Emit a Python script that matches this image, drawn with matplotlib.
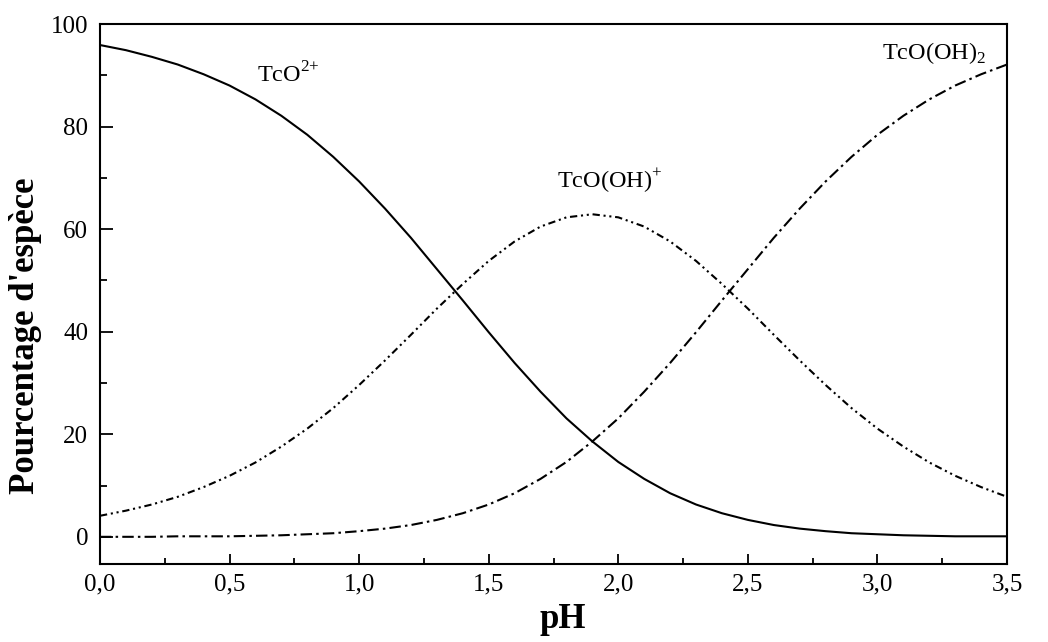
import matplotlib
matplotlib.use("Agg")
import matplotlib.pyplot as plt
from matplotlib.ticker import MultipleLocator, FixedLocator, FixedFormatter

ph = [0.0, 0.1, 0.2, 0.3, 0.4, 0.5, 0.6, 0.7, 0.8, 0.9,
      1.0, 1.1, 1.2, 1.3, 1.4, 1.5, 1.6, 1.7, 1.8, 1.9,
      2.0, 2.1, 2.2, 2.3, 2.4, 2.5, 2.6, 2.7, 2.8, 2.9,
      3.0, 3.1, 3.2, 3.3, 3.4, 3.5]

tco = [95.9, 94.9, 93.6, 92.1, 90.2, 88.0, 85.3, 82.1, 78.4, 74.1,
       69.3, 64.0, 58.3, 52.2, 46.1, 39.9, 33.9, 28.3, 23.1, 18.6,
       14.6, 11.3, 8.5, 6.3, 4.6, 3.3, 2.3, 1.6, 1.1, 0.7,
       0.5, 0.3, 0.2, 0.1, 0.1, 0.1]

tcooh = [4.1, 5.1, 6.3, 7.8, 9.7, 11.9, 14.5, 17.6, 21.1, 25.1,
         29.6, 34.4, 39.4, 44.5, 49.3, 53.8, 57.6, 60.5, 62.3, 62.9,
         62.3, 60.5, 57.6, 53.8, 49.3, 44.5, 39.4, 34.4, 29.6, 25.1,
         21.1, 17.6, 14.5, 11.9, 9.7, 7.8]

tcooh2 = [0.0, 0.0, 0.0, 0.1, 0.1, 0.1, 0.2, 0.3, 0.5, 0.7,
          1.1, 1.6, 2.3, 3.3, 4.6, 6.3, 8.5, 11.3, 14.6, 18.6,
          23.1, 28.3, 33.9, 39.9, 46.1, 52.2, 58.3, 64.0, 69.3, 74.1,
          78.4, 82.1, 85.3, 88.0, 90.2, 92.1]

xtick_vals = [0.0, 0.5, 1.0, 1.5, 2.0, 2.5, 3.0, 3.5]
xtick_labels = ["0,0", "0,5", "1,0", "1,5", "2,0", "2,5", "3,0", "3,5"]

plt.rcParams['font.family'] = ['Liberation Serif', 'DejaVu Serif']

fig = plt.figure(figsize=(10.48, 6.42), dpi=100)
ax = fig.add_axes([0.0954, 0.1215, 0.8655, 0.8411])

lw = 1.5
ax.plot(ph, tco, color='black', lw=lw, linestyle='-')
ax.plot(ph, tcooh, color='black', lw=lw, linestyle=(0, (3.5, 1.8, 1, 1.8, 1, 1.8)))
ax.plot(ph, tcooh2, color='black', lw=lw, linestyle=(0, (5.5, 2, 1.2, 2)))

ax.text(0.605, 90, r'TcO$^{\mathregular{2{+}}}$', fontsize=17.5, ha='left', va='center')
ax.text(1.762, 69.4, r'TcO(OH)$^{\mathregular{+}}$', fontsize=17.5, ha='left', va='center')
ax.text(3.017, 94.4, r'TcO(OH)$_{\mathregular{2}}$', fontsize=17.5, ha='left', va='center')

ax.set_xlim(0, 3.5)
ax.set_ylim(-5.3, 100)

ax.xaxis.set_major_locator(FixedLocator(xtick_vals))
ax.xaxis.set_major_formatter(FixedFormatter(xtick_labels))
ax.xaxis.set_minor_locator(MultipleLocator(0.25))
ax.yaxis.set_major_locator(MultipleLocator(20))
ax.yaxis.set_minor_locator(MultipleLocator(10))

ax.tick_params(axis='both', which='both', direction='in', top=False, right=False,
               labelsize=18, width=1.3)
ax.tick_params(axis='x', which='major', length=7.5, pad=7)
ax.tick_params(axis='x', which='minor', length=4.5)
ax.tick_params(axis='y', which='major', length=9, pad=8.5)
ax.tick_params(axis='y', which='minor', length=5)

for s in ax.spines.values():
    s.set_linewidth(1.5)

ax.set_xlabel('pH', fontsize=25, fontweight='bold')
ax.set_ylabel("Pourcentage d'espèce", fontsize=25, fontweight='bold')
ax.xaxis.set_label_coords(0.51, -0.072)
ax.yaxis.set_label_coords(-0.064, 0.422)

fig.savefig('out.png', dpi=100)
